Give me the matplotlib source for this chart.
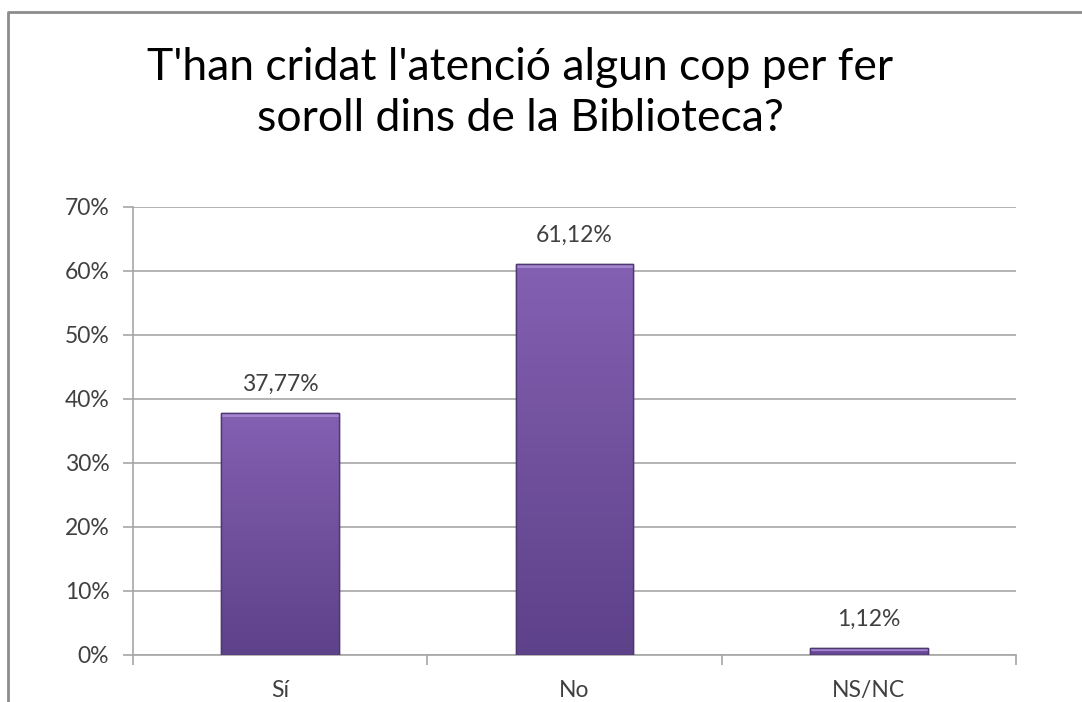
import numpy as np
from matplotlib import pyplot as plt
import matplotlib.patches as mpatches
from matplotlib.lines import Line2D
from matplotlib.colors import LinearSegmentedColormap

plt.rcParams['font.family'] = ['Lato', 'DejaVu Sans']

categories = ['Sí', 'No', 'NS/NC']
values = [37.77, 61.12, 1.12]
value_labels = ['37,77%', '61,12%', '1,12%']
yticks = [0, 10, 20, 30, 40, 50, 60, 70]
title = "T'han cridat l'atenció algun cop per fer\nsoroll dins de la Biblioteca?"

fig = plt.figure(figsize=(10.82, 7.02), dpi=100)
ax = fig.add_axes([0.1229, 0.0670, 0.8161, 0.6382])

# outer frame of the chart area (only top and left edges are visible)
fx, fy = 8 / 1082, 1 - 12 / 702
fig.add_artist(Line2D([fx, fx, 1.0], [0.0, fy, fy], transform=fig.transFigure,
                      color='#8c8c8c', linewidth=2))

x = np.arange(len(categories))
bars = ax.bar(x, values, width=0.4, color='#7454a0', edgecolor='#4e3870',
              linewidth=1.0, zorder=3)

# vertical gradient on each bar
cmap = LinearSegmentedColormap.from_list('purp', ['#5d4189', '#8460b2'])
grad = np.linspace(0, 1, 256).reshape(-1, 1)
for b in bars:
    x0, y0 = b.get_x(), b.get_y()
    w, h = b.get_width(), b.get_height()
    im = ax.imshow(grad, cmap=cmap, aspect='auto', origin='lower',
                   extent=[x0, x0 + w, y0, y0 + h], zorder=3.5)
    im.set_clip_path(b)
    # light bevel on the top edge
    bh = min(0.6, h * 0.5)
    ax.add_patch(mpatches.Rectangle((x0, y0 + h - bh), w, bh,
                                    facecolor='#a384cf', edgecolor='none',
                                    zorder=3.6))
    ax.add_patch(mpatches.Rectangle((x0, y0), w, h, fill=False,
                                    edgecolor='#4e3870', linewidth=1.0,
                                    zorder=3.7))

for xi, v, lab in zip(x, values, value_labels):
    ax.annotate(lab, (xi, v), xytext=(0, 13), textcoords='offset points',
                ha='center', va='bottom', fontsize=16.5, color='#404040')

ax.set_xlim(-0.5, 2.5)
ax.set_ylim(0, 70)
ax.set_yticks(yticks)
ax.set_yticklabels([str(t) + '%' for t in yticks], fontsize=16.5,
                   color='#404040')
ax.set_xticks(x)
ax.set_xticklabels(categories, fontsize=16.5, color='#404040')
ax.tick_params(axis='x', length=0, pad=18)
ax.set_xticks([-0.5, 0.5, 1.5, 2.5], minor=True)
ax.tick_params(axis='x', which='minor', length=7, color='#a6a6a6', width=1.2)
ax.tick_params(axis='y', length=7, color='#a6a6a6', width=1.2, pad=10)
ax.grid(axis='y', color='#a6a6a6', linewidth=1.2, zorder=0)
for s in ['top', 'right']:
    ax.spines[s].set_visible(False)
ax.spines['left'].set_color('#a6a6a6')
ax.spines['bottom'].set_color('#a6a6a6')
ax.spines['left'].set_linewidth(1.2)
ax.spines['bottom'].set_linewidth(1.2)

fig.text(0.4806, 0.868, title, ha='center', va='center', fontsize=32,
         color='black', linespacing=1.3)

fig.savefig('out.png', dpi=100)
